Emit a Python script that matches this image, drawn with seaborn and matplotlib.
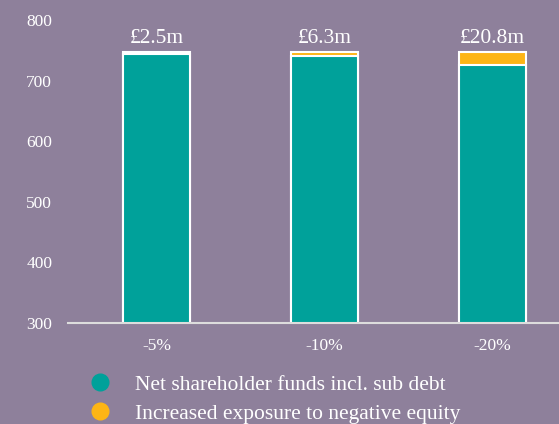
import pandas as pd
import matplotlib.pyplot as plt
import seaborn as sns
from matplotlib.lines import Line2D

scenarios = ['-5%', '-10%', '-20%']
net_funds = [744.5, 740.7, 726.2]
exposure = [2.5, 6.3, 20.8]
exposure_labels = ['£2.5m', '£6.3m', '£20.8m']

bg = '#8e809b'
teal = '#00a19a'
gold = '#fdb515'

sns.set_theme(style='white')
plt.rcParams['font.family'] = ['Liberation Serif', 'DejaVu Serif']

df = pd.DataFrame({'scenario': scenarios, 'net': net_funds, 'exp': exposure})
df['total'] = df['net'] + df['exp']

fig = plt.figure(figsize=(5.59, 4.24), dpi=100, facecolor=bg)
ax = fig.add_axes([0.122, 0.238, 0.878, 0.715])
ax.set_facecolor(bg)

# total bar first (gold), then teal on top of it
sns.barplot(data=df, x='scenario', y='total', color=gold, width=0.4,
            edgecolor='white', linewidth=1.5, ax=ax, saturation=1)
sns.barplot(data=df, x='scenario', y='net', color=teal, width=0.4,
            edgecolor='white', linewidth=1.5, ax=ax, saturation=1)

for i, (t, lab) in enumerate(zip(df['total'], exposure_labels)):
    ax.text(i, t + 6, lab, ha='center', va='bottom', color='white', fontsize=15.5)

ax.set_ylim(300, 800)
ax.set_xlim(-0.527, 2.396)
ax.set_yticks(range(300, 801, 100))
ax.set_xlabel('')
ax.set_ylabel('')
ax.tick_params(axis='both', colors='white', labelsize=12.5, length=0)
ax.tick_params(axis='y', pad=11.5)
ax.tick_params(axis='x', pad=11)
for s in ['top', 'right', 'left']:
    ax.spines[s].set_visible(False)
ax.spines['bottom'].set_color('#dddddd')
ax.spines['bottom'].set_linewidth(1.5)

handles = [
    Line2D([], [], marker='o', linestyle='', markersize=12, color=teal),
    Line2D([], [], marker='o', linestyle='', markersize=12, color=gold),
]
leg = fig.legend(handles, ['Net shareholder funds incl. sub debt',
                           'Increased exposure to negative equity'],
                 loc='lower left', bbox_to_anchor=(0.121, -0.045), frameon=False,
                 fontsize=15.5, labelcolor='white', handletextpad=1.05,
                 labelspacing=0.4, handlelength=1.2)

fig.savefig('out.png', dpi=100, facecolor=bg)
